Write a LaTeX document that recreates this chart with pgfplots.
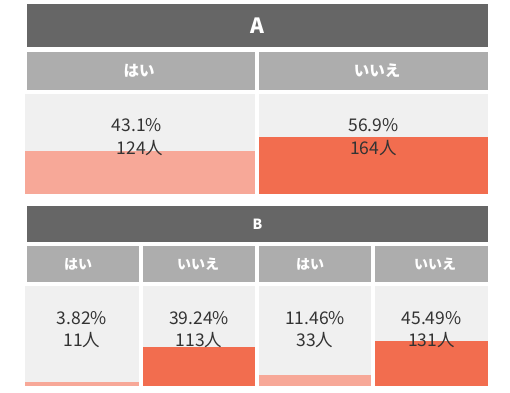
\documentclass[border=0pt]{standalone}
\usepackage{pgfplots}
\pgfplotsset{compat=1.18}
\usepackage{fontspec}
\setmainfont{Noto Sans CJK JP}
\definecolor{hdr}{HTML}{666666}
\definecolor{subh}{HTML}{ADADAD}
\definecolor{bgc}{HTML}{F0F0F0}
\definecolor{lo}{HTML}{F7A898}
\definecolor{hi}{HTML}{F26D4F}
\definecolor{txt}{HTML}{333333}
\pgfplotsset{panel/.style={scale only axis, hide axis, height=100pt,
  xmin=-0.5, xmax=0.5, ymin=0, ymax=100, anchor=south west}}
\newcommand{\pfont}{\fontsize{17.5}{20}\selectfont}
\begin{document}
\begin{tikzpicture}
\useasboundingbox (0,0) rectangle (510pt,392pt);
% headers
\fill[hdr] (27pt,345pt) rectangle (488pt,388pt);
\node[white,font=\fontsize{21}{24}\selectfont\bfseries] at (257.5pt,366pt) {A};
\fill[subh] (27pt,302pt) rectangle (255pt,340pt);
\fill[subh] (259pt,302pt) rectangle (488pt,340pt);
\node[white,font=\fontsize{15.5}{18}\selectfont\bfseries] at (139pt,321pt) {はい};
\node[white,font=\fontsize{15.5}{18}\selectfont\bfseries] at (377pt,321pt) {いいえ};
\fill[hdr] (27pt,150pt) rectangle (488pt,186pt);
\node[white,font=\fontsize{14}{17}\selectfont\bfseries] at (257.5pt,168pt) {B};
\fill[subh] (27pt,110pt) rectangle (139pt,146pt);
\fill[subh] (143pt,110pt) rectangle (255pt,146pt);
\fill[subh] (259pt,110pt) rectangle (371pt,146pt);
\fill[subh] (375pt,110pt) rectangle (488pt,146pt);
\node[white,font=\fontsize{14}{16}\selectfont\bfseries] at (78pt,128pt) {はい};
\node[white,font=\fontsize{14}{16}\selectfont\bfseries] at (198pt,128pt) {いいえ};
\node[white,font=\fontsize{14}{16}\selectfont\bfseries] at (310pt,128pt) {はい};
\node[white,font=\fontsize{14}{16}\selectfont\bfseries] at (435pt,128pt) {いいえ};
% A panels
\begin{axis}[panel, at={(25pt,198pt)}, width=230pt]
\fill[bgc] (rel axis cs:0,0) rectangle (rel axis cs:1,1);
\addplot[fill=lo, draw=none] coordinates {(-0.5,43.1) (0.5,43.1)} \closedcycle;
\node[txt,font=\pfont] at (axis cs:-0.013,69) {43.1\%};
\node[txt,font=\pfont] at (axis cs:0,46) {124人};
\end{axis}
\begin{axis}[panel, at={(259pt,198pt)}, width=229pt]
\fill[bgc] (rel axis cs:0,0) rectangle (rel axis cs:1,1);
\addplot[fill=hi, draw=none] coordinates {(-0.5,56.9) (0.5,56.9)} \closedcycle;
\node[txt,font=\pfont] at (axis cs:0,69) {56.9\%};
\node[txt,font=\pfont] at (axis cs:0,46) {164人};
\end{axis}
% B panels
\begin{axis}[panel, at={(25pt,6pt)}, width=114pt]
\fill[bgc] (rel axis cs:0,0) rectangle (rel axis cs:1,1);
\addplot[fill=lo, draw=none] coordinates {(-0.5,3.82) (0.5,3.82)} \closedcycle;
\node[txt,font=\pfont] at (axis cs:0,68) {3.82\%};
\node[txt,font=\pfont] at (axis cs:0,46) {11人};
\end{axis}
\begin{axis}[panel, at={(143pt,6pt)}, width=112pt]
\fill[bgc] (rel axis cs:0,0) rectangle (rel axis cs:1,1);
\addplot[fill=hi, draw=none] coordinates {(-0.5,39.24) (0.5,39.24)} \closedcycle;
\node[txt,font=\pfont] at (axis cs:0,68) {39.24\%};
\node[txt,font=\pfont] at (axis cs:0,46) {113人};
\end{axis}
\begin{axis}[panel, at={(259pt,6pt)}, width=112pt]
\fill[bgc] (rel axis cs:0,0) rectangle (rel axis cs:1,1);
\addplot[fill=lo, draw=none] coordinates {(-0.5,11.46) (0.5,11.46)} \closedcycle;
\node[txt,font=\pfont] at (axis cs:0,68) {11.46\%};
\node[txt,font=\pfont] at (axis cs:0,46) {33人};
\end{axis}
\begin{axis}[panel, at={(375pt,6pt)}, width=113pt]
\fill[bgc] (rel axis cs:0,0) rectangle (rel axis cs:1,1);
\addplot[fill=hi, draw=none] coordinates {(-0.5,45.49) (0.5,45.49)} \closedcycle;
\node[txt,font=\pfont] at (axis cs:0,68) {45.49\%};
\node[txt,font=\pfont] at (axis cs:0,46) {131人};
\end{axis}
\end{tikzpicture}
\end{document}
